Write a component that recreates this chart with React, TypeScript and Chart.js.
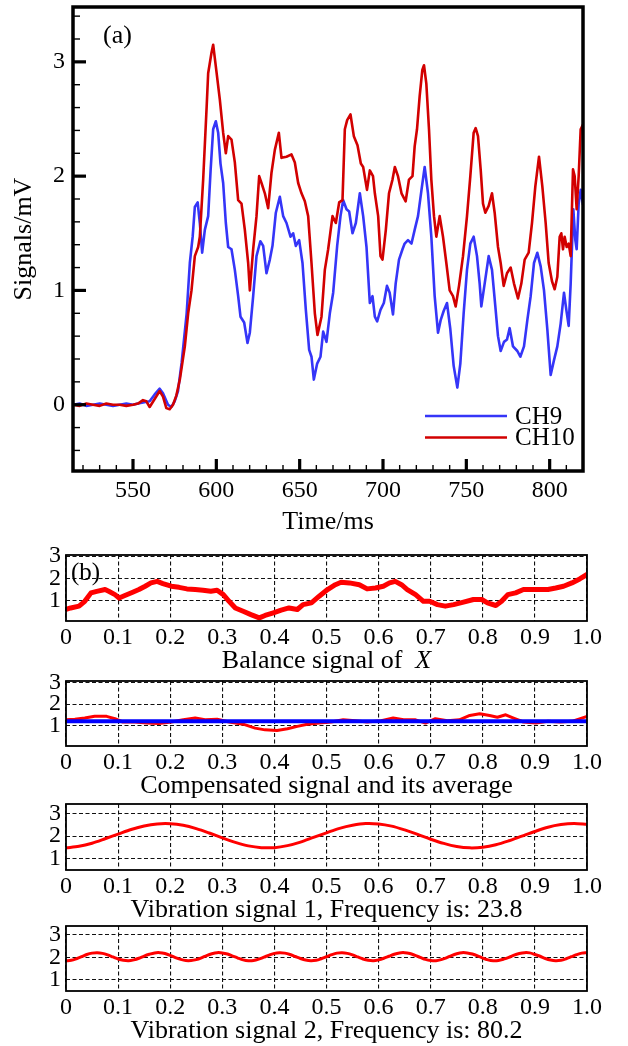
import React, { useEffect, useRef } from "react";
import { Chart, registerables } from "chart.js";

Chart.register(...registerables);

const SERIF = '"Liberation Serif", "Times New Roman", serif';
const BLUE_A = "#3535f8";
const RED_A = "#d20000";
const RED_B = "#ff0000";
const BLUE_B = "#0000ff";

// ---------------- panel (a) data ----------------
const CH9_T = [514, 518, 522, 526, 530, 534, 538, 542, 546, 550, 553, 556, 560, 563, 566, 568, 571, 573, 575, 577, 579.2, 582.2, 584.1, 585.8, 587.1, 588.8, 590.1, 591.5, 593.1, 595.1, 596.6, 598.1, 599.7, 601.1, 602.5, 604.1, 605.7, 607.1, 609.1, 611.1, 613.1, 614.5, 616.7, 618.7, 620.1, 622.1, 624.1, 626.4, 628.1, 630.1, 632.1, 633.7, 635.7, 638.1, 640.1, 642.1, 644.5, 646.1, 647.7, 649.7, 651.7, 653.7, 655.7, 657.1, 658.5, 660.5, 662.5, 664.1, 666.1, 668.1, 670.1, 672.5, 674.5, 676.1, 678.1, 679.7, 681.7, 683.7, 686.1, 688.1, 690.1, 692.1, 693.7, 695.1, 696.5, 698.5, 700.5, 702.4, 704.0, 706.0, 707.6, 709.6, 711.7, 713.0, 715.0, 717.1, 719.0, 721.0, 723.1, 725.0, 727.0, 729.0, 731.0, 733.0, 734.6, 736.4, 738.4, 740.4, 742.4, 744.6, 746.4, 748.4, 750.4, 752.4, 754.4, 756.4, 758.0, 759.0, 761.0, 763.4, 765.4, 767.4, 769.0, 770.6, 772.6, 774.4, 776.0, 778.0, 780.6, 782.4, 784.6, 786.6, 788.6, 790.6, 792.6, 794.6, 796.6, 798.6, 800.6, 802.6, 804.6, 806.6, 808.6, 810.0, 811.4, 812.6, 814.2, 815.4, 816.2, 817.4, 818.6, 820];
const CH9_V = [0.0, 0.01, -0.01, 0.0, 0.01, 0.0, -0.01, 0.0, 0.01, 0.0, 0.01, 0.02, 0.03, 0.09, 0.14, 0.1, 0.0, -0.02, 0.03, 0.12, 0.37, 0.8, 1.24, 1.47, 1.73, 1.77, 1.59, 1.33, 1.53, 1.65, 2.06, 2.41, 2.48, 2.38, 2.11, 1.94, 1.59, 1.38, 1.36, 1.18, 0.95, 0.77, 0.72, 0.54, 0.63, 0.95, 1.3, 1.43, 1.39, 1.15, 1.27, 1.39, 1.68, 1.82, 1.65, 1.59, 1.47, 1.5, 1.39, 1.44, 1.24, 0.83, 0.48, 0.42, 0.22, 0.36, 0.42, 0.64, 0.55, 0.8, 0.98, 1.39, 1.65, 1.79, 1.71, 1.69, 1.5, 1.59, 1.85, 1.65, 1.38, 0.89, 0.95, 0.77, 0.73, 0.83, 0.89, 1.04, 0.98, 0.79, 1.06, 1.27, 1.36, 1.41, 1.44, 1.41, 1.53, 1.65, 1.88, 2.08, 1.85, 1.47, 0.95, 0.63, 0.74, 0.82, 0.89, 0.66, 0.34, 0.15, 0.36, 0.8, 1.18, 1.41, 1.47, 1.3, 1.06, 0.86, 1.06, 1.3, 1.18, 0.86, 0.6, 0.47, 0.55, 0.57, 0.67, 0.51, 0.47, 0.42, 0.51, 0.74, 0.95, 1.24, 1.33, 1.21, 1.0, 0.66, 0.26, 0.39, 0.51, 0.71, 0.98, 0.83, 0.69, 1.06, 1.71, 1.44, 1.36, 1.76, 1.88, 1.75];
const CH10_T = [514, 518, 522, 526, 530, 534, 538, 542, 546, 550, 553, 556, 558, 560, 563, 566, 568, 570, 572, 574, 576, 578.1, 581.1, 583.1, 585.1, 587.1, 589.1, 590.1, 592.1, 594.2, 595.1, 597.1, 598.1, 600.2, 602.1, 604.1, 605.7, 607.1, 609.1, 611.1, 613.1, 615.1, 617.1, 619.1, 620.1, 622.1, 624.1, 625.7, 627.1, 629.1, 631.1, 633.1, 635.1, 637.5, 639.1, 642.1, 645.1, 647.1, 649.1, 651.1, 653.1, 655.1, 657.1, 659.1, 660.7, 663.1, 665.1, 667.1, 669.7, 671.7, 673.7, 675.7, 677.1, 678.5, 680.5, 682.5, 684.7, 686.7, 688.1, 690.4, 692.1, 694.0, 695.1, 697.1, 698.5, 699.7, 701.7, 703.6, 705.7, 707.1, 709.0, 711.1, 713.6, 715.6, 717.7, 719.0, 720.4, 722.0, 723.6, 724.6, 726.0, 727.6, 729.0, 730.6, 732.0, 734.0, 736.0, 738.0, 740.0, 742.0, 743.6, 745.6, 748.0, 750.4, 752.4, 754.4, 755.6, 757.0, 758.6, 760.0, 761.4, 763.4, 765.4, 767.0, 769.0, 770.6, 772.4, 774.4, 776.6, 778.6, 781.0, 783.0, 785.0, 787.4, 789.4, 791.4, 793.6, 795.6, 797.6, 799.4, 801.4, 803.0, 804.6, 806.0, 807.0, 808.0, 809.0, 810.2, 811.4, 812.6, 814.0, 815.0, 816.2, 817.4, 818.6, 820];
const CH10_V = [0.0, -0.01, 0.01, 0.0, -0.01, 0.01, 0.0, 0.0, -0.01, 0.0, 0.01, 0.04, 0.03, -0.02, 0.05, 0.12, 0.07, -0.03, -0.04, 0.0, 0.08, 0.22, 0.51, 0.8, 1.0, 1.3, 1.38, 1.47, 1.97, 2.61, 2.9, 3.08, 3.15, 2.9, 2.67, 2.38, 2.2, 2.35, 2.32, 2.12, 1.79, 1.76, 1.53, 1.24, 1.0, 1.36, 1.65, 2.0, 1.94, 1.85, 1.72, 2.03, 2.23, 2.38, 2.16, 2.17, 2.19, 2.12, 1.94, 1.85, 1.78, 1.65, 1.24, 0.8, 0.61, 0.77, 1.18, 1.36, 1.65, 1.59, 1.77, 1.79, 2.41, 2.49, 2.54, 2.35, 2.27, 2.11, 2.08, 1.88, 2.05, 2.0, 1.85, 1.65, 1.3, 1.27, 1.53, 1.85, 1.97, 2.08, 2.0, 1.85, 1.78, 1.97, 2.0, 2.26, 2.41, 2.7, 2.93, 2.97, 2.81, 2.41, 1.97, 1.65, 1.47, 1.65, 1.47, 1.24, 1.0, 0.95, 0.86, 1.04, 1.3, 1.65, 2.0, 2.38, 2.42, 2.35, 2.06, 1.76, 1.68, 1.74, 1.85, 1.68, 1.38, 1.24, 1.04, 1.15, 1.2, 1.06, 0.93, 1.06, 1.27, 1.33, 1.59, 1.91, 2.17, 1.91, 1.59, 1.24, 1.08, 1.01, 1.12, 1.47, 1.5, 1.36, 1.47, 1.38, 1.41, 1.3, 2.06, 2.0, 1.71, 2.0, 2.41, 2.45];
const A_X_TICKS = [550, 600, 650, 700, 750, 800];
const A_Y_TICKS = [0, 1, 2, 3];

// ---------------- panel (b) data ----------------
const B_X_TICKS = [0, 0.1, 0.2, 0.3, 0.4, 0.5, 0.6, 0.7, 0.8, 0.9, 1.0];
const B_Y_TICKS = [1, 2, 3];

const BAL_X = [0, 0.009, 0.025, 0.036, 0.048, 0.059, 0.075, 0.082, 0.094, 0.102, 0.113, 0.128, 0.14, 0.152, 0.163, 0.175, 0.186, 0.202, 0.217, 0.232, 0.248, 0.263, 0.278, 0.29, 0.302, 0.313, 0.325, 0.34, 0.355, 0.371, 0.382, 0.398, 0.413, 0.428, 0.444, 0.455, 0.471, 0.486, 0.502, 0.517, 0.528, 0.544, 0.563, 0.578, 0.594, 0.609, 0.621, 0.632, 0.644, 0.655, 0.671, 0.686, 0.698, 0.713, 0.728, 0.744, 0.763, 0.782, 0.798, 0.809, 0.825, 0.836, 0.848, 0.863, 0.878, 0.902, 0.925, 0.94, 0.955, 0.971, 0.986, 1.0];
const BAL_Y = [0.59, 0.66, 0.74, 0.96, 1.34, 1.41, 1.49, 1.41, 1.26, 1.11, 1.22, 1.37, 1.49, 1.64, 1.79, 1.86, 1.76, 1.64, 1.59, 1.52, 1.49, 1.46, 1.41, 1.46, 1.26, 0.96, 0.66, 0.51, 0.36, 0.21, 0.32, 0.44, 0.56, 0.66, 0.59, 0.81, 0.89, 1.19, 1.49, 1.71, 1.82, 1.79, 1.71, 1.52, 1.56, 1.64, 1.79, 1.86, 1.71, 1.49, 1.26, 0.96, 0.96, 0.81, 0.74, 0.81, 0.92, 1.04, 1.04, 0.89, 0.77, 0.96, 1.26, 1.34, 1.49, 1.49, 1.49, 1.56, 1.64, 1.79, 1.97, 2.17];

const COMP_X = [0, 0.017, 0.036, 0.055, 0.078, 0.094, 0.109, 0.132, 0.155, 0.178, 0.202, 0.225, 0.248, 0.267, 0.29, 0.313, 0.34, 0.363, 0.382, 0.405, 0.425, 0.444, 0.463, 0.486, 0.509, 0.532, 0.555, 0.578, 0.605, 0.628, 0.648, 0.671, 0.69, 0.709, 0.732, 0.755, 0.775, 0.794, 0.813, 0.828, 0.844, 0.859, 0.878, 0.902, 0.925, 0.948, 0.971, 0.99, 1.0];
const COMP_Y = [1.28, 1.31, 1.36, 1.44, 1.44, 1.33, 1.18, 1.18, 1.13, 1.11, 1.18, 1.28, 1.36, 1.28, 1.31, 1.18, 1.08, 0.9, 0.82, 0.79, 0.87, 0.98, 1.08, 1.13, 1.18, 1.28, 1.24, 1.18, 1.24, 1.36, 1.28, 1.28, 1.13, 1.33, 1.24, 1.28, 1.48, 1.56, 1.48, 1.4, 1.51, 1.36, 1.18, 1.13, 1.21, 1.18, 1.21, 1.36, 1.44];
const AVG_X = [0, 1];
const AVG_Y = [1.21, 1.21];

const VIB1_X = [0, 0.025, 0.05, 0.075, 0.1, 0.125, 0.15, 0.175, 0.2, 0.225, 0.25, 0.275, 0.3, 0.325, 0.35, 0.375, 0.4, 0.425, 0.45, 0.475, 0.5, 0.525, 0.55, 0.575, 0.6, 0.625, 0.65, 0.675, 0.7, 0.725, 0.75, 0.775, 0.8, 0.825, 0.85, 0.875, 0.9, 0.925, 0.95, 0.975, 1.0];
const VIB1_Y = [1.47, 1.54, 1.68, 1.88, 2.09, 2.3, 2.46, 2.55, 2.56, 2.49, 2.34, 2.14, 1.92, 1.72, 1.56, 1.48, 1.48, 1.57, 1.73, 1.94, 2.15, 2.35, 2.49, 2.57, 2.55, 2.45, 2.28, 2.08, 1.86, 1.67, 1.53, 1.47, 1.5, 1.61, 1.79, 2.0, 2.21, 2.4, 2.52, 2.57, 2.53];

const VIB2_STEP = 0.01;
const VIB2_Y = [1.85, 1.87, 1.94, 2.03, 2.13, 2.19, 2.21, 2.18, 2.11, 2.02, 1.93, 1.87, 1.85, 1.89, 1.96, 2.06, 2.14, 2.2, 2.21, 2.17, 2.09, 1.99, 1.91, 1.86, 1.86, 1.9, 1.98, 2.08, 2.16, 2.21, 2.2, 2.15, 2.06, 1.97, 1.89, 1.85, 1.86, 1.92, 2.01, 2.1, 2.18, 2.21, 2.19, 2.13, 2.04, 1.95, 1.88, 1.85, 1.87, 1.94, 2.03, 2.12, 2.19, 2.21, 2.18, 2.11, 2.02, 1.93, 1.87, 1.85, 1.89, 1.96, 2.05, 2.14, 2.2, 2.21, 2.17, 2.09, 2.0, 1.91, 1.86, 1.85, 1.9, 1.98, 2.08, 2.16, 2.21, 2.2, 2.15, 2.07, 1.97, 1.89, 1.85, 1.86, 1.92, 2.0, 2.1, 2.17, 2.21, 2.2, 2.13, 2.05, 1.95, 1.88, 1.85, 1.87, 1.94, 2.03, 2.12, 2.19, 2.21];

// ---------------- helpers ----------------
const pts = (xs: number[], ys: number[]) => xs.map((x, i) => ({ x, y: ys[i] }));

type Seg = { text: string; italic?: boolean };

function drawSegs(ctx: CanvasRenderingContext2D, segs: Seg[], cx: number, cy: number, size: number) {
  const fonts = segs.map((s) => `${s.italic ? "italic " : ""}${size}px ${SERIF}`);
  const widths = segs.map((s, i) => {
    ctx.font = fonts[i];
    return ctx.measureText(s.text).width;
  });
  const total = widths.reduce((a, b) => a + b, 0);
  let x = cx - total / 2;
  ctx.textAlign = "left";
  ctx.textBaseline = "middle";
  ctx.fillStyle = "#000";
  segs.forEach((s, i) => {
    ctx.font = fonts[i];
    ctx.fillText(s.text, x, cy);
    x += widths[i];
  });
}

const noPad = (s: any) => {
  s.paddingTop = 0;
  s.paddingBottom = 0;
  s.paddingLeft = 0;
  s.paddingRight = 0;
};

// ---------------- main chart (a) ----------------
const mainDecor = {
  id: "mainDecor",
  afterDraw(chart: any) {
    const { ctx, chartArea: a, scales } = chart;
    const xs = scales.x;
    const ys = scales.y;
    ctx.save();
    ctx.strokeStyle = "#000";
    ctx.lineCap = "butt";
    for (let k = Math.ceil(xs.min / 10); k * 10 <= xs.max; k++) {
      const v = k * 10;
      const major = A_X_TICKS.includes(v);
      const px = xs.getPixelForValue(v);
      ctx.lineWidth = major ? 3.2 : 1.4;
      ctx.beginPath();
      ctx.moveTo(px, a.bottom);
      ctx.lineTo(px, a.bottom - (major ? 12 : 6));
      ctx.stroke();
    }
    for (let k = Math.ceil(ys.min * 5); k / 5 <= ys.max; k++) {
      const v = k / 5;
      const major = k % 5 === 0;
      const py = ys.getPixelForValue(v);
      ctx.lineWidth = major ? 3.2 : 1.4;
      ctx.beginPath();
      ctx.moveTo(a.left, py);
      ctx.lineTo(a.left + (major ? 13 : 7), py);
      ctx.stroke();
    }
    ctx.lineWidth = 3.5;
    ctx.strokeRect(a.left, a.top, a.right - a.left, a.bottom - a.top);

    const items = [chart.data.datasets[1], chart.data.datasets[0]];
    items.forEach((ds: any, i: number) => {
      const y = a.bottom - 55 + i * 21.5;
      ctx.strokeStyle = ds.borderColor;
      ctx.lineWidth = 2.6;
      ctx.beginPath();
      ctx.moveTo(a.right - 158, y);
      ctx.lineTo(a.right - 76, y);
      ctx.stroke();
      ctx.fillStyle = "#000";
      ctx.font = `25px ${SERIF}`;
      ctx.textAlign = "left";
      ctx.textBaseline = "middle";
      ctx.fillText(ds.label, a.right - 68, y + 1);
    });
    ctx.fillStyle = "#000";
    ctx.font = `26px ${SERIF}`;
    ctx.textAlign = "left";
    ctx.textBaseline = "middle";
    ctx.fillText("(a)", a.left + 30, a.top + 29);
    ctx.restore();
  },
};

function mainConfig(): any {
  return {
    type: "line",
    data: {
      datasets: [
        {
          label: "CH10",
          data: pts(CH10_T, CH10_V),
          borderColor: RED_A,
          borderWidth: 2.6,
          pointRadius: 0,
          borderJoinStyle: "round",
          tension: 0,
        },
        {
          label: "CH9",
          data: pts(CH9_T, CH9_V),
          borderColor: BLUE_A,
          borderWidth: 2.6,
          pointRadius: 0,
          borderJoinStyle: "round",
          tension: 0,
        },
      ],
    },
    options: {
      responsive: false,
      animation: false,
      events: [],
      layout: { padding: { left: 0, top: 7, right: 45, bottom: 0 } },
      plugins: { legend: { display: false }, tooltip: { enabled: false } },
      scales: {
        x: {
          type: "linear",
          min: 514,
          max: 820,
          afterBuildTicks: (s: any) => {
            s.ticks = A_X_TICKS.map((v) => ({ value: v }));
          },
          afterFit: (s: any) => {
            s.height = 69;
            noPad(s);
          },
          grid: { display: false, drawTicks: false },
          border: { display: false },
          ticks: {
            padding: 5,
            color: "#000",
            maxRotation: 0,
            autoSkip: false,
            font: { family: SERIF, size: 24 },
            callback: (v: any) => String(v),
          },
          title: {
            display: true,
            text: "Time/ms",
            color: "#000",
            font: { family: SERIF, size: 26 },
            padding: { top: 0, bottom: 2 },
          },
        },
        y: {
          type: "linear",
          min: -0.58,
          max: 3.48,
          afterBuildTicks: (s: any) => {
            s.ticks = A_Y_TICKS.map((v) => ({ value: v }));
          },
          afterFit: (s: any) => {
            s.width = 73;
            noPad(s);
          },
          grid: { display: false, drawTicks: false },
          border: { display: false },
          ticks: {
            padding: 8,
            color: "#000",
            autoSkip: false,
            font: { family: SERIF, size: 24 },
            callback: (v: any) => String(v),
          },
          title: {
            display: true,
            text: "Signals/mV",
            color: "#000",
            font: { family: SERIF, size: 26 },
            padding: { top: 9, bottom: 0 },
          },
        },
      },
    },
    plugins: [mainDecor],
  };
}

// ---------------- small panels (b) ----------------
const PANEL_PAD_TOP = 10;
const PANEL_XAXIS_H = 58;

function panelConfig(opts: {
  datasets: any[];
  yMin: number;
  yMax: number;
  caption: Seg[];
  tag?: string;
}): any {
  const decor = {
    id: "panelDecor",
    afterDraw(chart: any) {
      const { ctx, chartArea: a } = chart;
      ctx.save();
      ctx.strokeStyle = "#000";
      ctx.lineWidth = 1.8;
      ctx.strokeRect(a.left, a.top, a.right - a.left, a.bottom - a.top);
      drawSegs(ctx, opts.caption, (a.left + a.right) / 2, a.bottom + 40, 26);
      if (opts.tag) {
        ctx.font = `25px ${SERIF}`;
        ctx.textAlign = "left";
        ctx.textBaseline = "middle";
        ctx.fillStyle = "#000";
        ctx.fillText(opts.tag, a.left + 5, a.top + 18);
      }
      ctx.restore();
    },
  };
  return {
    type: "line",
    data: { datasets: opts.datasets },
    options: {
      responsive: false,
      animation: false,
      events: [],
      layout: { padding: { left: 0, top: PANEL_PAD_TOP, right: 41, bottom: 0 } },
      plugins: { legend: { display: false }, tooltip: { enabled: false } },
      scales: {
        x: {
          type: "linear",
          min: 0,
          max: 1,
          afterBuildTicks: (s: any) => {
            s.ticks = B_X_TICKS.map((v) => ({ value: v }));
          },
          afterFit: (s: any) => {
            s.height = PANEL_XAXIS_H;
            noPad(s);
          },
          grid: { display: true, drawTicks: false, color: "#111", lineWidth: 1.1 },
          border: { display: false, dash: [4, 2.5] },
          ticks: {
            padding: 2,
            color: "#000",
            maxRotation: 0,
            autoSkip: false,
            font: { family: SERIF, size: 24 },
            callback: (v: any) => (v === 0 ? "0" : Number(v).toFixed(1)),
          },
        },
        y: {
          type: "linear",
          min: opts.yMin,
          max: opts.yMax,
          afterBuildTicks: (s: any) => {
            s.ticks = B_Y_TICKS.map((v) => ({ value: v }));
          },
          afterFit: (s: any) => {
            s.width = 66;
            noPad(s);
          },
          grid: { display: true, drawTicks: false, color: "#111", lineWidth: 1.1 },
          border: { display: false, dash: [4, 2.5] },
          ticks: {
            padding: 5,
            color: "#000",
            autoSkip: false,
            font: { family: SERIF, size: 24, lineHeight: 1 },
            callback: (v: any) => String(v),
          },
        },
      },
    },
    plugins: [decor],
  };
}

function line(data: any[], color: string, width: number, extra: any = {}) {
  return {
    data,
    borderColor: color,
    borderWidth: width,
    pointRadius: 0,
    borderJoinStyle: "round",
    borderCapStyle: "round",
    tension: 0,
    ...extra,
  };
}

function ChartBox({ top, height, make }: { top: number; height: number; make: () => any }) {
  const ref = useRef<HTMLCanvasElement | null>(null);
  useEffect(() => {
    if (!ref.current) return;
    const chart = new Chart(ref.current, make());
    return () => chart.destroy();
  }, []);
  return (
    <div style={{ position: "absolute", left: 0, top, width: 628, height }}>
      <canvas ref={ref} width={628} height={height} style={{ display: "block", width: 628, height }} />
    </div>
  );
}

const panelBox = (plotTop: number, plotBottom: number) => ({
  top: plotTop - PANEL_PAD_TOP,
  height: plotBottom - plotTop + PANEL_PAD_TOP + PANEL_XAXIS_H,
});

export default function App() {
  const p1 = panelBox(555, 621);
  const p2 = panelBox(681, 746);
  const p3 = panelBox(804, 870);
  const p4 = panelBox(926, 991);
  return (
    <div style={{ position: "absolute", left: 0, top: 0, width: 628, height: 1046, background: "#fff" }}>
      <ChartBox top={0} height={540} make={mainConfig} />
      <ChartBox
        top={p1.top}
        height={p1.height}
        make={() =>
          panelConfig({
            datasets: [line(pts(BAL_X, BAL_Y), RED_B, 5)],
            yMin: 0.07,
            yMax: 3.05,
            caption: [{ text: "Balance signal of  " }, { text: "X", italic: true }],
            tag: "(b)",
          })
        }
      />
      <ChartBox
        top={p2.top}
        height={p2.height}
        make={() =>
          panelConfig({
            datasets: [
              line(pts(AVG_X, AVG_Y), BLUE_B, 4, { order: 0 }),
              line(pts(COMP_X, COMP_Y), RED_B, 3, { order: 1 }),
            ],
            yMin: 0.08,
            yMax: 3.06,
            caption: [{ text: "Compensated signal and its average" }],
          })
        }
      />
      <ChartBox
        top={p3.top}
        height={p3.height}
        make={() =>
          panelConfig({
            datasets: [line(pts(VIB1_X, VIB1_Y), RED_B, 3, { tension: 0.3 })],
            yMin: 0.47,
            yMax: 3.45,
            caption: [{ text: "Vibration signal 1, Frequency is: 23.8" }],
          })
        }
      />
      <ChartBox
        top={p4.top}
        height={p4.height}
        make={() =>
          panelConfig({
            datasets: [
              line(
                VIB2_Y.map((y, i) => ({ x: i * VIB2_STEP, y })),
                RED_B,
                3,
                { tension: 0.3 }
              ),
            ],
            yMin: 0.5,
            yMax: 3.4,
            caption: [{ text: "Vibration signal 2, Frequency is: 80.2" }],
          })
        }
      />
    </div>
  );
}
